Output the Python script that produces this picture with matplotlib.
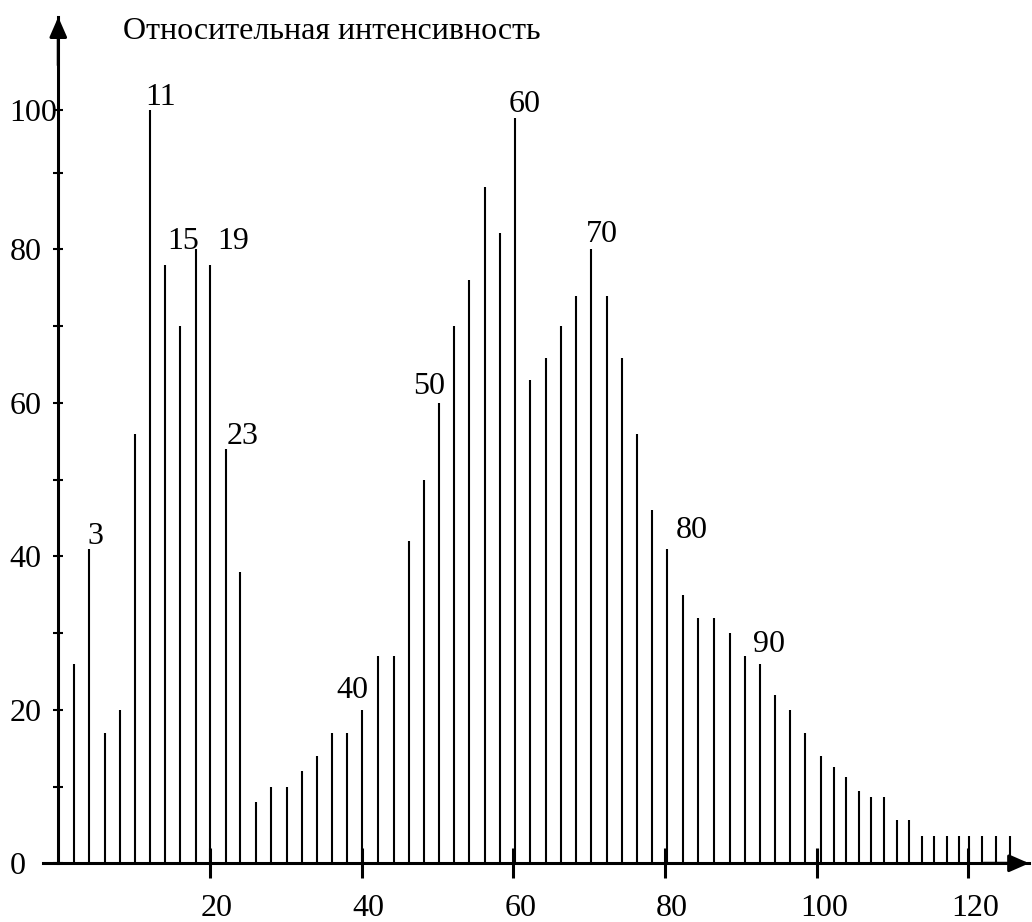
import matplotlib.pyplot as plt
from matplotlib.transforms import ScaledTranslation

plt.rcParams['font.family'] = ['Liberation Serif', 'DejaVu Serif']
plt.rcParams['font.size'] = 23

# положения линий спектра (ось x) и их относительная интенсивность
peak_x = [2.1, 4.0, 6.1, 8.1, 10.1, 12.1, 14.1, 16.1, 18.1, 20.0,
          22.1, 24.0, 26.1, 28.1, 30.1, 32.1, 34.1, 36.1, 38.1, 40.1,
          42.2, 44.2, 46.2, 48.2, 50.2, 52.2, 54.2, 56.2, 58.3, 60.2,
          62.2, 64.3, 66.3, 68.3, 70.3, 72.4, 74.3, 76.3, 78.3, 80.3,
          82.4, 84.4, 86.5, 88.5, 90.5, 92.5, 94.5, 96.5, 98.5, 100.6,
          102.3, 103.9, 105.6, 107.1, 108.8, 110.6, 112.1, 113.9, 115.5, 117.2,
          118.7, 120.1, 121.8, 123.6, 125.5]
peak_y = [26, 41, 17, 20, 56, 98.2, 78, 70, 80, 78,
          54, 38, 8, 10, 10, 12, 14, 17, 17, 20,
          27, 27, 42, 50, 60, 70, 76, 88.2, 82.2, 97.1,
          63, 65.8, 70, 74, 80, 74, 65.8, 56, 46, 41,
          35, 32, 32, 30, 27, 26, 22, 20, 17, 14,
          12.5, 11.2, 9.4, 8.6, 8.6, 5.6, 5.6, 3.6, 3.6, 3.6,
          3.6, 3.6, 3.6, 3.6, 3.6]

# подписи у отдельных линий
label_text = ['3', '11', '15', '19', '23', '40', '50', '60', '70', '80', '90']
label_at = [4.0, 12.1, 14.1, 20.0, 22.1, 40.1, 50.2, 60.2, 70.3, 80.3, 92.5]
# сдвиг подписи от вершины линии, px (dx, dy)
label_shift = [(-1, 5), (-5, 5), (2, 16), (7, 16), (1, 5), (-26, 12),
               (-26, 9), (-6, 6), (-6, 7), (8, 11), (-7, 12)]

x_ticks = [20, 40, 60, 80, 100, 120]
y_ticks = [0, 20, 40, 60, 80]
y_minor = [10, 30, 50, 70, 90]

fig = plt.figure(figsize=(10.32, 9.22), dpi=100)
ax = fig.add_axes([43.1 / 1032, 58.7 / 922, 986.05 / 1032, 846.3 / 922])
ax.set_xlim(-2, 128)
ax.set_ylim(0, 110.3)

ax.vlines(peak_x, 0, peak_y, color='black', linewidth=1.5)

for x, t, (dx, dy) in zip(label_at, label_text, label_shift):
    h = peak_y[peak_x.index(x)]
    ax.annotate(t, xy=(x, h), xytext=(dx * 0.72, dy * 0.72),
                textcoords='offset points', ha='left', va='baseline')

# оси со стрелками
for s in ['top', 'right']:
    ax.spines[s].set_visible(False)
ax.spines['left'].set_position(('data', 0))
ax.spines['left'].set_linewidth(2.2)
ax.spines['bottom'].set_linewidth(2.2)
head = dict(arrowstyle='-|>,head_length=0.8,head_width=0.35', color='black',
            lw=2.2, shrinkA=0, shrinkB=0, mutation_scale=15)
ax.annotate('', xy=(0, 110.3), xytext=(0, 104), arrowprops=head,
            annotation_clip=False)
ax.annotate('', xy=(128, 0), xytext=(122, 0), arrowprops=head,
            annotation_clip=False)

# самая высокая линия принята за 100
ax.set_yticks(y_ticks + [max(peak_y)])
ax.set_yticklabels([str(v) for v in y_ticks] + ['100'])
ax.set_yticks(y_minor, minor=True)
ax.set_xticks(x_ticks)
ax.set_xticklabels([str(v) for v in x_ticks])

ax.tick_params(axis='y', which='both', direction='inout', length=7,
               width=1.5, pad=31.5)
ax.tick_params(axis='x', direction='inout', length=21.6, width=2.2, pad=27)

for lab in ax.get_yticklabels():
    lab.set_ha('left')
shift = ScaledTranslation(7 / 100, 0, fig.dpi_scale_trans)
for lab in ax.get_xticklabels():
    lab.set_va('baseline')
    lab.set_transform(lab.get_transform() + shift)

fig.text(122.7 / 1032, (922 - 39.3) / 922, 'Относительная интенсивность',
         ha='left', va='baseline')

fig.savefig('out.png', dpi=100)
